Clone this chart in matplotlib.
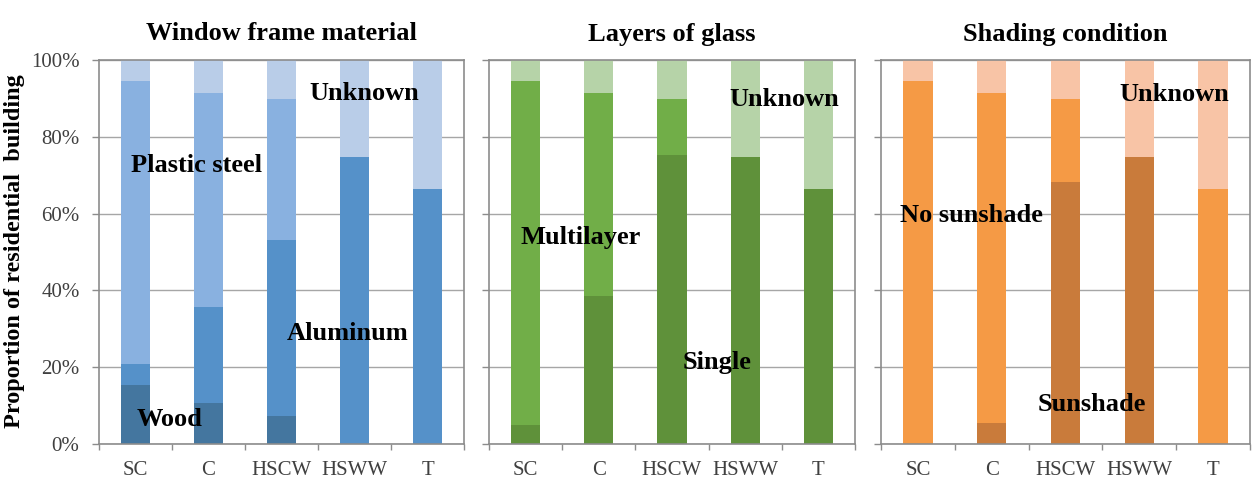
import numpy as np
import matplotlib.pyplot as plt

regions = ['SC', 'C', 'HSCW', 'HSWW', 'T']

# window frame material (%)
wood = [15.4, 10.8, 7.2, 0, 0]
aluminum = [5.5, 25.0, 46.0, 74.7, 66.4]
plastic_steel = [73.7, 55.7, 36.7, 0, 0]
frame_unknown = [5.4, 8.5, 10.1, 25.3, 33.6]

# layers of glass (%)
single = [4.9, 38.6, 75.3, 74.7, 66.4]
multilayer = [89.7, 52.9, 14.6, 0, 0]
glass_unknown = [5.4, 8.5, 10.1, 25.3, 33.6]

# shading condition (%)
sunshade = [0, 5.5, 68.1, 74.7, 0]
no_sunshade = [94.6, 86.0, 21.8, 0, 66.4]
shade_unknown = [5.4, 8.5, 10.1, 25.3, 33.6]

panels = [
    ('Window frame material',
     [wood, aluminum, plastic_steel, frame_unknown],
     ['#44769f', '#5591c9', '#89b1e0', '#b9cde8'],
     [('Wood', 0.47, 6.3), ('Aluminum', 2.91, 28.9),
      ('Plastic steel', 0.83, 72.6), ('Unknown', 3.14, 91.3)]),
    ('Layers of glass',
     [single, multilayer, glass_unknown],
     ['#5f913a', '#71ae48', '#b6d3a8'],
     [('Single', 2.62, 21.1), ('Multilayer', 0.75, 53.9), ('Unknown', 3.53, 89.6)]),
    ('Shading condition',
     [sunshade, no_sunshade, shade_unknown],
     ['#c97b3b', '#f59a45', '#f8c4a6'],
     [('Sunshade', 2.36, 10.2), ('No sunshade', 0.72, 59.6), ('Unknown', 3.48, 90.9)]),
]

plt.rcParams['font.family'] = ['Liberation Serif', 'DejaVu Serif']

fig = plt.figure(figsize=(12.57, 4.93), dpi=100)
W, H = 1257, 493
lefts = [99, 489, 881]
rights = [464, 855, 1250]
top, bottom = 60, 444

x = np.arange(len(regions))
for i, (title, series, colors, labels) in enumerate(panels):
    ax = fig.add_axes([lefts[i] / W, 1 - bottom / H, (rights[i] - lefts[i]) / W, (bottom - top) / H])
    base = np.zeros(len(regions))
    for vals, c in zip(series, colors):
        ax.bar(x, vals, width=0.4, bottom=base, color=c, zorder=2, linewidth=0)
        base += np.array(vals)
    ax.set_xlim(-0.5, len(regions) - 0.5)
    ax.set_ylim(0, 100)
    ax.set_yticks(np.arange(0, 101, 20))
    if i == 0:
        ax.set_yticklabels([f'{v}%' for v in range(0, 101, 20)], fontsize=15, color='#404040')
    else:
        ax.set_yticklabels([])
    ax.set_xticks(x)
    ax.set_xticklabels(regions, fontsize=15, color='#404040')
    ax.set_xticks(np.arange(-0.5, len(regions)), minor=True)
    ax.tick_params(axis='x', which='major', length=0, pad=12)
    ax.tick_params(axis='x', which='minor', length=4.5, color='#8c8c8c', width=1)
    ax.tick_params(axis='y', length=5, color='#8c8c8c', width=1, pad=9)
    ax.yaxis.grid(True, color='#a6a6a6', linewidth=1, zorder=0)
    ax.set_axisbelow(True)
    for s in ax.spines.values():
        s.set_color('#8c8c8c')
        s.set_linewidth(1.2)
    ax.text(0.5, (bottom - 34) / (bottom - top), title, transform=ax.transAxes,
            ha='center', va='center', fontsize=19, fontweight='bold')
    for txt, tx, ty in labels:
        ax.text(tx, ty, txt, ha='center', va='center', fontsize=19, fontweight='bold', zorder=5)

fig.text(15 / W, 1 - 251 / H, 'Proportion of residential  building', rotation=90,
         ha='center', va='center', fontsize=17.5, fontweight='bold')

fig.savefig('out.png', dpi=100)
